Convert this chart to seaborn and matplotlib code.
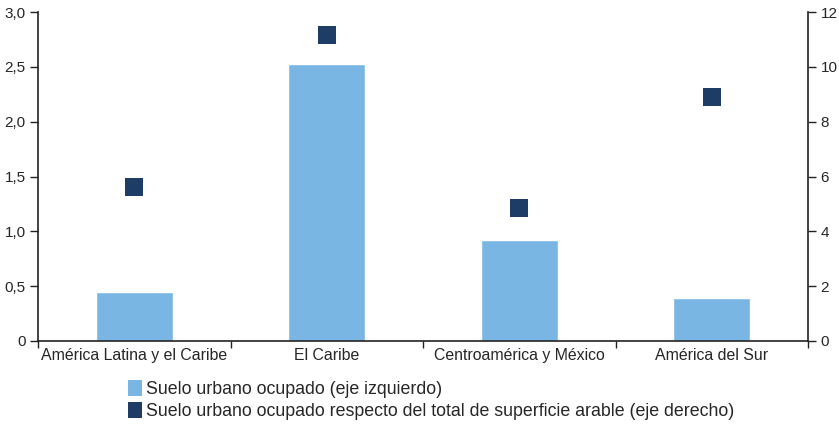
import matplotlib
matplotlib.use("Agg")
import matplotlib.pyplot as plt
from matplotlib.patches import Patch
from matplotlib.ticker import FixedLocator
import seaborn as sns
import pandas as pd

categories = ["América Latina y el Caribe", "El Caribe", "Centroamérica y México", "América del Sur"]
suelo_urbano = [0.45, 2.53, 0.92, 0.39]
suelo_vs_arable = [5.62, 11.17, 4.85, 8.9]
left_ticks = [0, 0.5, 1.0, 1.5, 2.0, 2.5, 3.0]
left_labels = ["0", "0,5", "1,0", "1,5", "2,0", "2,5", "3,0"]
right_ticks = [0, 2, 4, 6, 8, 10, 12]
label_bar = "Suelo urbano ocupado (eje izquierdo)"
label_pt = "Suelo urbano ocupado respecto del total de superficie arable (eje derecho)"

df = pd.DataFrame({"cat": categories, "bar": suelo_urbano, "pt": suelo_vs_arable})

sns.set_style("white")
plt.rcParams["font.family"] = ["Liberation Sans", "DejaVu Sans"]

bar_color = "#79B6E3"
pt_color = "#1D3D66"

fig = plt.figure(figsize=(8.39, 4.25), dpi=100)
ax = fig.add_axes([38/839, 84/425, 770/839, 329/425])
sns.barplot(data=df, x="cat", y="bar", color=bar_color, width=0.4, saturation=1, ax=ax)
ax.set_xlim(-0.5, 3.5)
ax.set_ylim(0, 3.0)
ax.set_yticks(left_ticks)
ax.set_yticklabels(left_labels)
ax.set_xlabel("")
ax.set_ylabel("")

ax2 = ax.twinx()
sns.scatterplot(data=df, x="cat", y="pt", marker="s", s=150, color=pt_color,
                edgecolor=pt_color, linewidth=0, ax=ax2, zorder=5)
ax2.set_ylim(0, 12)
ax2.set_yticks(right_ticks)
ax2.set_yticklabels([str(t) for t in right_ticks])
ax2.set_ylabel("")
ax2.set_xlim(-0.5, 3.5)

for a in (ax, ax2):
    for s in a.spines.values():
        s.set_color("#222222")
        s.set_linewidth(1.2)
    a.spines["top"].set_visible(False)

ax.spines["right"].set_visible(False)
ax2.spines["left"].set_visible(False)
ax2.spines["bottom"].set_visible(False)

ax.tick_params(axis="y", which="major", direction="out", length=6, width=1.0,
               color="#222222", labelsize=11, left=True, pad=3)
ax2.tick_params(axis="y", which="major", direction="out", length=6, width=1.0,
                color="#222222", labelsize=11, right=True, pad=3)
ax.tick_params(axis="x", which="major", length=0, labelsize=11.4, pad=5)
ax.xaxis.set_minor_locator(FixedLocator([-0.5, 0.5, 1.5, 2.5, 3.5]))
ax.tick_params(axis="x", which="minor", direction="out", length=5, width=1.0,
               color="#222222", bottom=True)

handles = [Patch(facecolor=bar_color, edgecolor="none", label=label_bar),
           Patch(facecolor=pt_color, edgecolor="none", label=label_pt)]
fig.legend(handles=handles, loc="upper left", bbox_to_anchor=(128/839, 1 - 380/425),
           frameon=False, fontsize=12.8, handlelength=0.8, handleheight=1.0,
           handletextpad=0.2, labelspacing=0.2, borderpad=0, borderaxespad=0)

fig.savefig("out.png", dpi=100)
